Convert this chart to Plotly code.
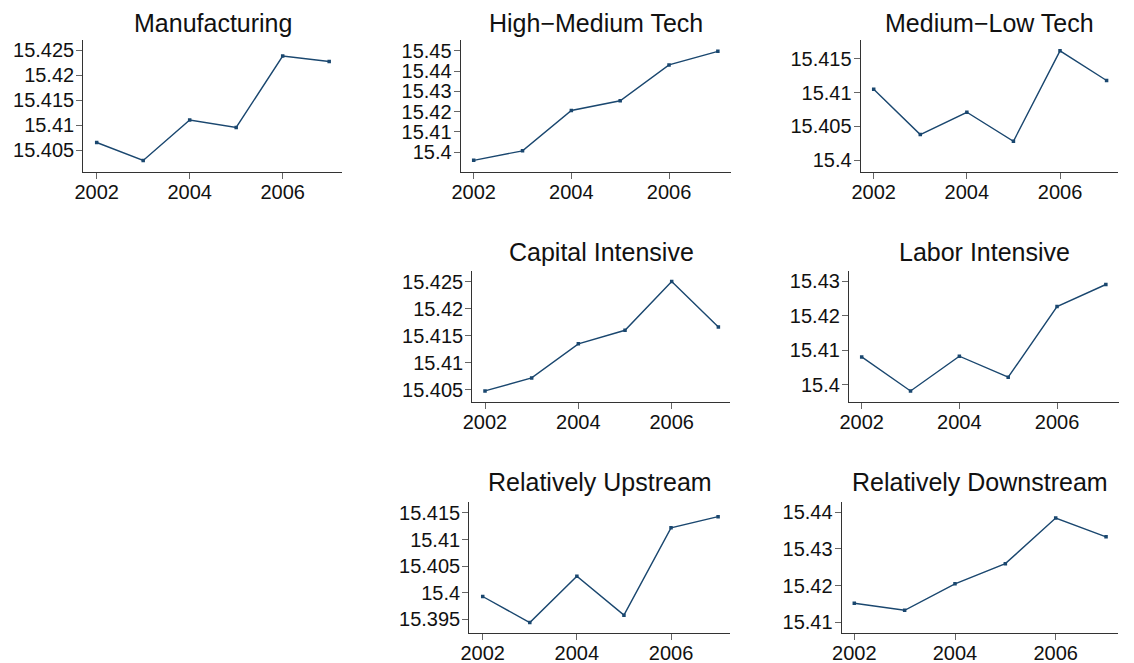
import plotly.graph_objects as go

# ── Data ──────────────────────────────────────────────────────────────────────
years = [2002, 2003, 2004, 2005, 2006, 2007]
x_ticks = [2002, 2004, 2006]

manufacturing = [15.4065, 15.4029, 15.4110, 15.4095, 15.4238, 15.4227]
high_medium_tech = [15.3959, 15.4006, 15.4205, 15.4253, 15.4430, 15.4497]
medium_low_tech = [15.4105, 15.4038, 15.4071, 15.4028, 15.4162, 15.4118]
capital_intensive = [15.4048, 15.4072, 15.4135, 15.4160, 15.4250, 15.4166]
labor_intensive = [15.4081, 15.3982, 15.4083, 15.4022, 15.4227, 15.4291]
rel_upstream = [15.3993, 15.3944, 15.4031, 15.3958, 15.4122, 15.4143]
rel_downstream = [15.4152, 15.4133, 15.4205, 15.4260, 15.4384, 15.4333]

titles = [
    "Manufacturing", "High\u2212Medium Tech", "Medium\u2212Low Tech",
    "Capital Intensive", "Labor Intensive",
    "Relatively Upstream", "Relatively Downstream",
]
series = [
    manufacturing, high_medium_tech, medium_low_tech,
    capital_intensive, labor_intensive,
    rel_upstream, rel_downstream,
]
y_ticks = [
    [15.405, 15.41, 15.415, 15.42, 15.425],
    [15.40, 15.41, 15.42, 15.43, 15.44, 15.45],
    [15.40, 15.405, 15.41, 15.415],
    [15.405, 15.41, 15.415, 15.42, 15.425],
    [15.40, 15.41, 15.42, 15.43],
    [15.395, 15.40, 15.405, 15.41, 15.415],
    [15.41, 15.42, 15.43, 15.44],
]

# ── Layout ────────────────────────────────────────────────────────────────────
# the page body has an 8px margin: shift everything up/left by it and let the
# figure run to the window's right and bottom edges
PAGE_MARGIN = 8
FW, FH = 1134 - PAGE_MARGIN, 663 - PAGE_MARGIN
LINE_COLOR = "#1a476f"
FONT = "Liberation Sans, Arial, Helvetica, sans-serif"


def px_x(px):
    return (px - PAGE_MARGIN) / FW


def px_y(py):
    return 1 - (py - PAGE_MARGIN) / FH


# plot areas in window px: left, right, top, bottom
boxes = [
    (83.3, 341.7, 40, 172),
    (460.7, 730.7, 40, 171.7),
    (860.7, 1118, 40, 171.7),
    (472.3, 730, 270.7, 402.3),
    (849, 1119, 270.7, 401.7),
    (469.3, 730, 502.3, 632.7),
    (841.7, 1118.3, 502.3, 632.7),
]
x_ranges = [
    (2001.712, 2007.269), (2001.734, 2007.263), (2001.721, 2007.245),
    (2001.728, 2007.249), (2001.740, 2007.269),
    (2001.715, 2007.253), (2001.750, 2007.243),
]
y_ranges = [
    (15.4006, 15.4270), (15.3903, 15.4553), (15.3983, 15.4178),
    (15.4027, 15.4270), (15.3951, 15.4331),
    (15.3925, 15.4170), (15.4072, 15.4427),
]
# top row sits a touch low so its text box stays inside the figure
title_y = [22.5, 22.5, 22.5, 252, 252, 482.5, 482.5]

fig = go.Figure()
layout = dict(
    width=FW, height=FH,
    margin=dict(l=0, r=0, t=0, b=0, autoexpand=False),
    paper_bgcolor="white", plot_bgcolor="white",
    font=dict(family=FONT, color="#111", size=20),
    showlegend=False,
)
annotations = []

for i, (name, vals) in enumerate(zip(titles, series)):
    n = "" if i == 0 else str(i + 1)
    left, right, top, bottom = boxes[i]
    fig.add_trace(go.Scatter(
        x=years, y=vals, mode="lines+markers",
        line=dict(color=LINE_COLOR, width=1.4),
        marker=dict(color=LINE_COLOR, size=3.5, symbol="square"),
        xaxis="x" + n, yaxis="y" + n,
    ))
    axis_style = dict(
        showgrid=False, zeroline=False, showline=True, automargin=False,
        linecolor="#333", linewidth=1.2,
        ticks="outside", ticklen=6, tickcolor="#666",
        tickfont=dict(size=20, color="#111"),
    )
    layout["xaxis" + n] = dict(
        domain=[px_x(left), px_x(right)], anchor="y" + n,
        range=list(x_ranges[i]), tickvals=x_ticks,
        ticktext=[str(t) for t in x_ticks],
        ticklabelstandoff=-4,
        **axis_style,
    )
    layout["yaxis" + n] = dict(
        domain=[px_y(bottom), px_y(top)], anchor="x" + n,
        range=list(y_ranges[i]), tickvals=y_ticks[i],
        ticktext=[f"{v:g}" for v in y_ticks[i]],
        ticklabelstandoff=-2,
        **axis_style,
    )
    annotations.append(dict(
        text=name, showarrow=False,
        xref="paper", yref="paper",
        x=px_x((left + right) / 2), y=px_y(title_y[i]),
        xanchor="center", yanchor="middle",
        font=dict(size=25, color="#111", family=FONT),
    ))

layout["annotations"] = annotations
fig.update_layout(**layout)

fig.write_html("out.html")
